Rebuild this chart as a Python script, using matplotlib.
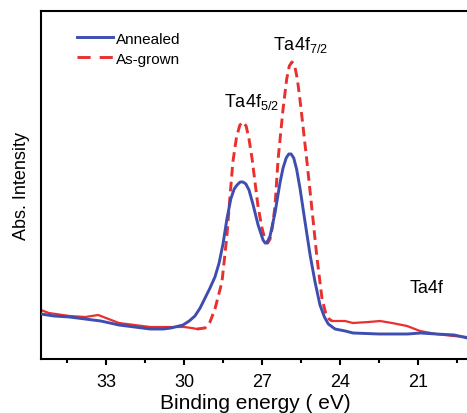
import numpy as np
import matplotlib.pyplot as plt
from matplotlib.lines import Line2D

plt.rcParams['font.family'] = ['Liberation Sans', 'DejaVu Sans']
plt.rcParams['mathtext.fontset'] = 'custom'
plt.rcParams['mathtext.rm'] = 'Liberation Sans'
plt.rcParams['mathtext.it'] = 'Liberation Sans:italic'

# ── Data (binding energy in eV, intensity in a.u.) ──
annealed_ev = [35.5, 35.0, 34.4, 33.8, 33.2, 32.5, 31.9, 31.3, 30.8, 30.5,
               30.04, 29.8, 29.58, 29.38, 29.19, 29.0, 28.81, 28.65, 28.5,
               28.35, 28.2, 28.07, 27.96, 27.84, 27.73, 27.62, 27.5, 27.35,
               27.15, 26.96, 26.88, 26.81, 26.69, 26.5, 26.31, 26.19, 26.07,
               25.97, 25.88, 25.78, 25.67, 25.54, 25.35, 25.15, 24.96, 24.77,
               24.6, 24.45, 24.19, 23.8, 23.5, 22.5, 21.4, 20.9, 20.3, 19.6,
               19.1]
annealed_int = [45, 43, 42, 40, 38, 34, 32, 30, 30, 31,
                34, 38, 43, 51, 61, 71, 82, 96, 115,
                140, 160, 170, 174, 177, 177, 175, 169, 155,
                134, 119, 116, 116, 123, 146, 176, 191, 201,
                205, 205, 201, 190, 171, 138, 104, 77, 54,
                42, 35, 30, 28, 26, 25, 25, 26, 25, 24,
                21]

grown_ev = [35.5, 35.2, 34.4, 33.8, 33.3, 33.0, 32.5, 31.9, 31.3, 30.5,
            30.0, 29.7, 29.5, 29.19, 29.0, 28.81, 28.54, 28.35, 28.23, 28.12,
            27.98, 27.85, 27.73, 27.61, 27.5, 27.38, 27.27, 27.15, 27.0,
            26.88, 26.78, 26.69, 26.6, 26.5, 26.38, 26.19, 26.05, 25.95,
            25.85, 25.75, 25.64, 25.52, 25.42, 25.27, 25.08, 24.88, 24.69,
            24.55, 24.42, 24.31, 23.81, 23.5, 22.9, 22.46, 22.0, 21.42,
            20.92, 20.3, 19.65, 19.12]
grown_int = [49, 46, 43, 42, 44, 41, 36, 34, 32, 32,
             32, 31, 30, 31, 37, 50, 77, 123, 163, 197,
             222, 234, 237, 233, 220, 200, 177, 152, 131,
             119, 116, 120, 132, 153, 200, 250, 280, 293,
             297, 294, 280, 255, 232, 197, 150, 100, 60,
             46, 40, 38, 38, 36, 37, 38, 36, 33,
             28, 25, 23, 22]

blue = '#3d4db0'
red = '#e8312f'

fig = plt.figure(figsize=(4.67, 4.14), dpi=100)
ax = fig.add_axes([41 / 467, 54 / 414, 429 / 467, 348 / 414])

blue_line, = ax.plot(annealed_ev, annealed_int, color=blue, lw=2.1,
                     zorder=3, solid_joinstyle='round')

# as-grown: solid in the flat tails, dashed across the peaks
gev = np.array(grown_ev)
gin = np.array(grown_int)
left = gev >= 29.5
right = gev <= 24.31
mid = (gev <= 29.5) & (gev >= 24.31)
ax.plot(gev[left], gin[left], color=red, lw=1.6, zorder=2)
ax.plot(gev[right], gin[right], color=red, lw=1.6, zorder=2)
ax.plot(gev[mid], gin[mid], color=red, lw=2.1, dashes=(3.3, 1.8), zorder=2)

ax.set_xlim(35.5, 19.0)
ax.set_ylim(0, 348)
ax.set_xticks([33, 30, 27, 24, 21])
ax.set_xticks([34.5, 31.5, 28.5, 25.5, 22.5, 19.5], minor=True)
ax.set_yticks([])
ax.tick_params(axis='x', which='major', direction='out', length=4, width=1.5,
               labelsize=13, pad=6)
ax.tick_params(axis='x', which='minor', direction='out', length=3, width=1.5)
for s in ax.spines.values():
    s.set_linewidth(1.5)

ax.set_xlabel('Binding energy ( eV)', fontsize=15, labelpad=2)
ax.set_ylabel('Abs. Intensity', fontsize=13, labelpad=8)

ax.text(28.46, 253, r'Ta4f$_{5/2}$', fontsize=13, ha='left', va='baseline')
ax.text(26.58, 310, r'Ta4f$_{7/2}$', fontsize=13, ha='left', va='baseline')
ax.text(21.31, 67, 'Ta4f', fontsize=13, ha='left', va='baseline')

# legend sample for the dashed curve: two long dashes as in the original
red_proxy = Line2D([], [], color=red, lw=2.1, dashes=(4.5, 3.1))
ax.legend([blue_line, red_proxy], ['Annealed', 'As-grown'],
          loc='upper left', frameon=False, fontsize=11, handlelength=2.35,
          handletextpad=0.2, labelspacing=0.4, borderaxespad=0.0,
          bbox_to_anchor=(0.07, 0.958))

fig.savefig('out.png', dpi=100, facecolor='white')
